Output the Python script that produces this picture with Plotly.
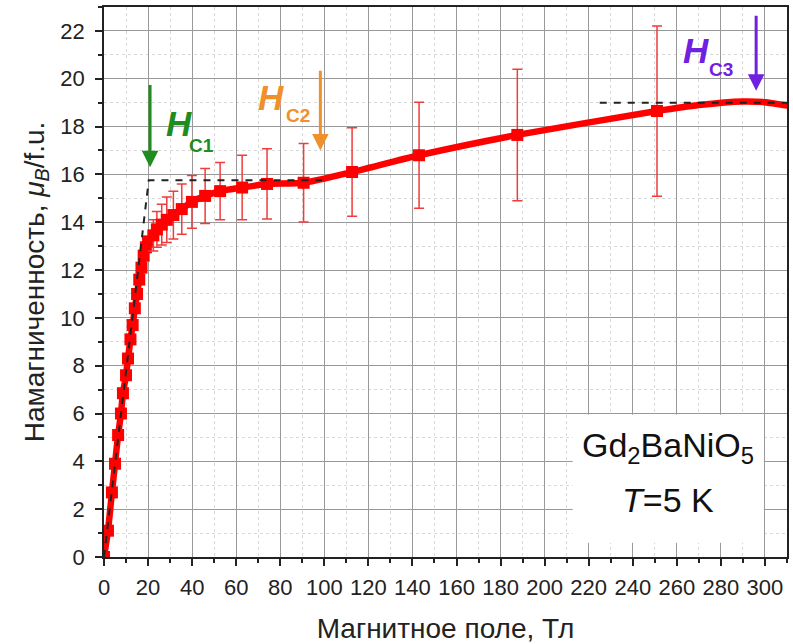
import plotly.graph_objects as go

# --- data ---
field_low = [0, 1.8, 3.6, 5, 6.4, 7.7, 8.6, 10, 10.9, 12, 13, 14, 15, 16, 17, 18, 19, 20]
mag_low = [0, 1.1, 2.7, 3.9, 5.1, 6.0, 6.85, 7.6, 8.3, 9.1, 9.7, 10.4, 11.0, 11.6, 12.1, 12.6, 12.95, 13.2]

field_err = [22.4, 24, 26.2, 28.5, 31.5, 35.3, 39.9, 45.9, 52.7, 62.7, 74, 90.6, 112.6, 143, 187.6, 251]
mag_err = [13.45, 13.7, 13.9, 14.1, 14.3, 14.55, 14.85, 15.1, 15.3, 15.45, 15.6, 15.65, 16.1, 16.8, 17.65, 18.65]
err_val = [0.65, 0.75, 0.85, 0.95, 1.0, 1.05, 1.1, 1.15, 1.2, 1.35, 1.47, 1.64, 1.85, 2.22, 2.75, 3.56]

field_tail = [270, 290, 300, 312]
mag_tail = [18.9, 19.05, 19.02, 18.85]

guide1_x = [0, 20.3, 99]
guide1_y = [0, 15.75, 15.75]
guide2_x = [225, 312]
guide2_y = [19.0, 19.0]

x_ticks = list(range(0, 301, 20))
y_ticks = list(range(0, 23, 2))

RED = "#ff0000"
FONT = "Liberation Sans, Arial, sans-serif"
GREEN, ORANGE, PURPLE = "#1e8c1e", "#f0902a", "#7020e0"

fig = go.Figure()

fig.add_trace(go.Scatter(
    x=field_low + field_err + field_tail,
    y=mag_low + mag_err + mag_tail,
    mode="lines", line=dict(color=RED, width=6.5, shape="spline", smoothing=0.5),
    hoverinfo="skip", showlegend=False))

fig.add_trace(go.Scatter(
    x=field_low, y=mag_low, mode="markers",
    marker=dict(symbol="square", size=12, color=RED),
    showlegend=False))

fig.add_trace(go.Scatter(
    x=field_err, y=mag_err, mode="markers",
    marker=dict(symbol="square", size=12, color=RED),
    error_y=dict(type="data", array=err_val, visible=True,
                 color="#f03c3c", thickness=1.5, width=5),
    showlegend=False))

for gx, gy in [(guide1_x, guide1_y), (guide2_x, guide2_y)]:
    fig.add_trace(go.Scatter(
        x=gx, y=gy, mode="lines",
        line=dict(color="#222222", width=2, dash="7px,7px"),
        hoverinfo="skip", showlegend=False))

arrows = [
    (20.9, 16.3, 19.8, GREEN),
    (98.2, 17.0, 20.4, ORANGE),
    (296, 19.5, 22.7, PURPLE),
]
for x, yh, yt, c in arrows:
    fig.add_annotation(x=x, y=yh, ax=x, ay=yt, xref="x", yref="y",
                       axref="x", ayref="y", showarrow=True,
                       arrowhead=2, arrowsize=1.1, arrowwidth=3, arrowcolor=c, text="")

labels = [
    (33.9, 18.12, 44.3, 17.2, "C1", GREEN),
    (75.9, 19.23, 87.9, 18.45, "C2", ORANGE),
    (268.6, 21.19, 280.2, 20.38, "C3", PURPLE),
]
for hx, hy, sx, sy, sub, c in labels:
    fig.add_annotation(x=hx, y=hy, xref="x", yref="y", showarrow=False,
                       text="<b><i>H</i></b>",
                       font=dict(family=FONT, size=35, color=c))
    fig.add_annotation(x=sx, y=sy, xref="x", yref="y", showarrow=False,
                       text=f"<b>{sub}</b>",
                       font=dict(family=FONT, size=19, color=c))

fig.add_shape(type="rect", xref="x", yref="y", x0=212.7, x1=299.5, y0=0.6, y1=5.95,
              fillcolor="white", line=dict(width=0), layer="above")
fig.add_annotation(x=256, y=4.6, xref="x", yref="y", showarrow=False,
                   text="Gd<sub>2</sub>BaNiO<sub>5</sub>",
                   font=dict(family=FONT, size=34, color="#111111"))
fig.add_annotation(x=256, y=2.38, xref="x", yref="y", showarrow=False,
                   text="<i>T</i>=5 K",
                   font=dict(family=FONT, size=34, color="#111111"))

common = dict(
    ticks="outside", ticklen=7, tickwidth=1.5, tickcolor="#222",
    showline=True, linecolor="#222", linewidth=1.5, mirror=True,
    showgrid=True, gridcolor="#999999", gridwidth=1.3, zeroline=False,
    tickfont=dict(family=FONT, size=22, color="#222"), automargin=False,
)
fig.update_xaxes(
    range=[0, 310], tickvals=x_ticks, ticklabelstandoff=3,
    minor=dict(dtick=10, ticks="outside", ticklen=4, tickcolor="#222", showgrid=True,
               gridcolor="#d8d8d8", griddash="dot", gridwidth=1),
    title=dict(text="Магнитное поле, Тл", font=dict(family=FONT, size=28, color="#222"), standoff=20),
    **common,
)
fig.update_yaxes(
    range=[0, 23], tickvals=y_ticks, ticklabelstandoff=6,
    minor=dict(dtick=1, ticks="outside", ticklen=4, tickcolor="#222", showgrid=True,
               gridcolor="#d8d8d8", griddash="dot", gridwidth=1),
    title=dict(text="Намагниченность, <i>μ<sub>B</sub></i>/f.u.",
               font=dict(family=FONT, size=28, color="#222"), standoff=8),
    **common,
)

fig.update_layout(
    width=793, height=644,
    margin=dict(l=104, r=6, t=7, b=87),
    plot_bgcolor="white", paper_bgcolor="white",
    showlegend=False,
)

fig.write_html("out.html", config={"displayModeBar": False},
               post_script="document.body.style.margin='0';document.body.style.overflow='hidden';")
